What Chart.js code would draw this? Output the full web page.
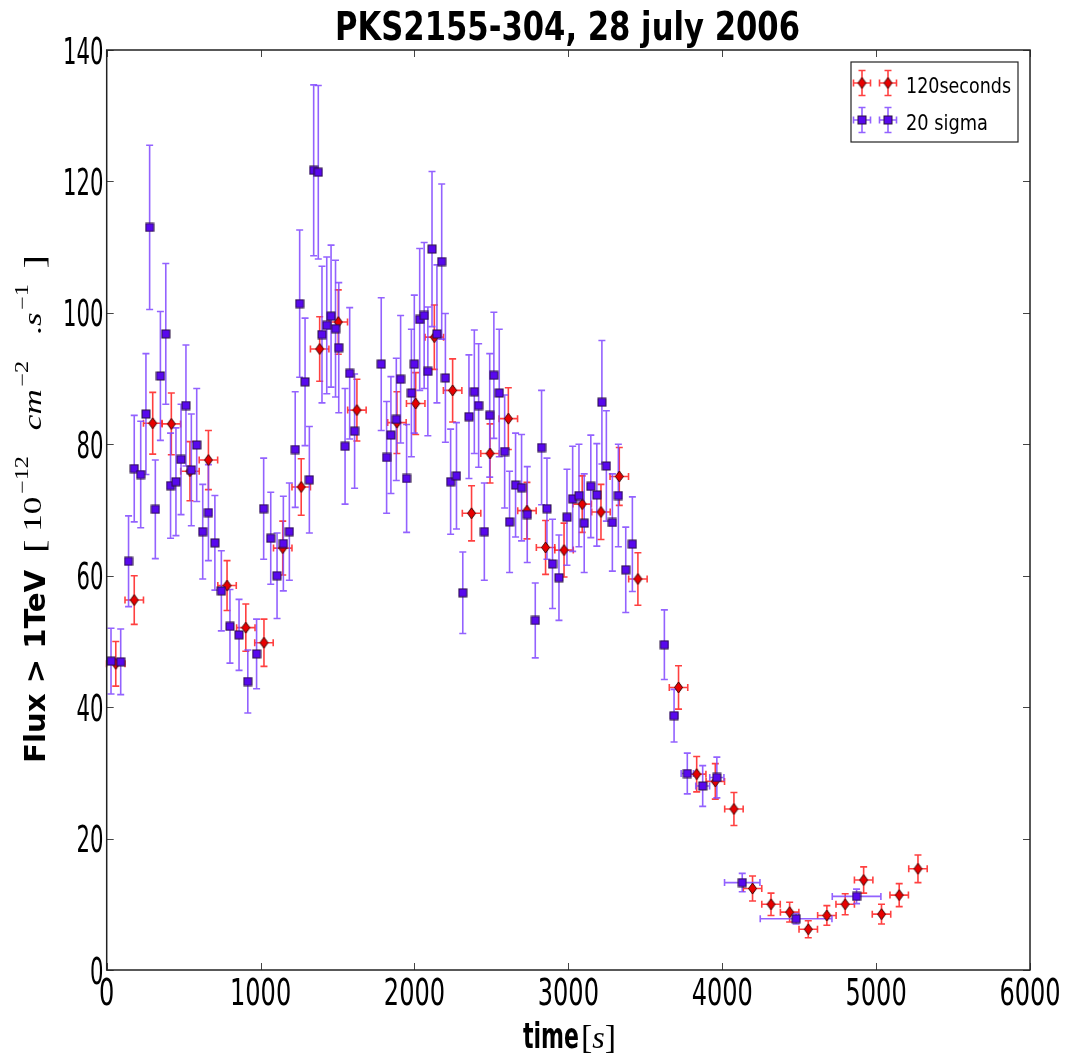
<!DOCTYPE html>
<html>
<head>
<meta charset="UTF-8">
<title>PKS2155-304, 28 july 2006</title>
<script src="https://cdn.jsdelivr.net/npm/chart.js"></script>
<style>
  body { margin: 0; background: #fff; }
  canvas { display: block; }
</style>
</head>
<body>
<canvas id="lc" width="1079" height="1056"></canvas>
<script>
// ---- data ----
const xTicks = [0, 1000, 2000, 3000, 4000, 5000, 6000];
const yTicks = [0, 20, 40, 60, 80, 100, 120, 140];

// 120 s bins (red diamonds), x error = half bin
const redTime = [59, 179, 299, 420, 541, 661, 782, 904, 1022, 1144, 1264, 1384, 1505, 1626,
  1886, 2008, 2129, 2248, 2371, 2491, 2610, 2731, 2852, 2972, 3090, 3212, 3331, 3452,
  3716, 3834, 3955, 4076, 4197, 4317, 4438, 4559, 4680, 4799, 4919, 5035, 5150, 5272];
const redFlux = [46.6, 56.3, 83.2, 83.1, 75.9, 77.6, 58.5, 52.1, 49.8, 64.2, 73.5, 94.5, 98.6, 85.2,
  83.3, 86.2, 96.3, 88.2, 69.5, 78.6, 83.9, 69.9, 64.3, 63.9, 70.9, 69.7, 75.1, 59.5,
  43.0, 29.8, 28.7, 24.5, 12.4, 10.0, 8.8, 6.2, 8.3, 10.0, 13.7, 8.5, 11.4, 15.4];
const redErr = [3.4, 3.7, 4.7, 4.7, 4.5, 4.5, 3.8, 3.6, 3.6, 4.1, 4.3, 4.9, 4.9, 4.7,
  4.7, 4.7, 4.9, 4.8, 4.2, 4.5, 4.7, 4.3, 4.1, 4.1, 4.3, 4.2, 4.4, 4.0,
  3.3, 2.7, 2.7, 2.5, 1.9, 1.7, 1.5, 1.3, 1.5, 1.6, 2.0, 1.5, 1.75, 2.1];
const redHalfBin = 60;

// 20 sigma bins (blue squares)
const blueTime = [28, 91, 142, 179, 221, 255, 279, 316, 349, 384, 415, 450, 483, 515, 550, 585,
  624, 661, 703, 745, 801, 860, 917, 974, 1020, 1066, 1107, 1148, 1187, 1225, 1254, 1289,
  1317, 1345, 1375, 1399, 1430, 1458, 1487, 1508, 1549, 1579, 1611, 1784, 1819, 1847, 1882,
  1910, 1949, 1980, 1999, 2034, 2063, 2087, 2114, 2146, 2177, 2201, 2235, 2273, 2314, 2354,
  2389, 2417, 2454, 2489, 2516, 2551, 2586, 2618, 2657, 2696, 2733, 2785, 2826, 2861, 2897,
  2939, 2991, 3028, 3069, 3103, 3146, 3185, 3218, 3247, 3286, 3325, 3373, 3416, 3624, 3687,
  3773, 3873, 3965, 4130, 4480, 4873];
const blueFlux = [47.0, 46.9, 62.2, 76.3, 75.4, 84.6, 113.0, 70.1, 90.4, 96.8, 73.7, 74.3, 77.7, 85.9, 76.1, 79.9,
  66.7, 69.6, 65.0, 57.7, 52.3, 51.0, 43.9, 48.1, 70.2, 65.7, 60.0, 64.9, 66.7, 79.2, 101.4, 89.5,
  74.6, 121.7, 121.4, 96.7, 98.1, 99.5, 97.6, 94.7, 79.7, 90.8, 82.0, 92.2, 78.0, 81.4, 83.8,
  89.9, 74.8, 87.8, 92.2, 99.0, 99.6, 91.1, 109.7, 96.8, 107.8, 90.1, 74.3, 75.2, 57.4, 84.2,
  88.0, 85.9, 66.7, 84.4, 90.5, 87.8, 78.9, 68.2, 73.8, 73.4, 69.3, 53.2, 79.5, 70.2, 61.8,
  59.7, 68.9, 71.7, 72.2, 68.0, 73.6, 72.3, 86.4, 76.7, 68.1, 72.2, 60.9, 64.8, 49.5, 38.7,
  29.9, 28.0, 29.3, 13.3, 7.8, 11.2];
const blueErr = [5.0, 5.0, 6.9, 8.1, 8.1, 9.2, 12.5, 7.5, 9.8, 10.7, 8.0, 8.2, 8.4, 9.2, 8.5, 8.6,
  7.2, 7.3, 7.2, 6.1, 5.6, 5.4, 4.8, 5.3, 7.7, 7.0, 6.5, 7.2, 7.4, 8.8, 11.2, 9.7,
  8.1, 13.0, 13.2, 10.4, 10.4, 10.8, 10.4, 9.9, 8.8, 10.0, 8.7, 10.1, 8.5, 8.9, 9.3,
  9.7, 8.2, 9.7, 10.5, 10.8, 11.1, 9.8, 11.8, 10.5, 11.8, 9.8, 8.0, 8.1, 6.2, 9.4,
  9.4, 9.4, 7.4, 9.4, 9.6, 9.7, 8.6, 7.7, 7.9, 8.1, 7.3, 5.7, 8.7, 7.7, 6.8,
  6.5, 7.3, 8.0, 7.8, 7.5, 7.8, 7.8, 9.4, 8.4, 7.4, 7.8, 6.5, 7.2, 5.3, 4.0,
  3.1, 3.1, 3.1, 1.4, 0.8, 1.1];
const blueTimeErr = [17, 17, 17, 17, 17, 17, 17, 17, 17, 17, 17, 17, 17, 17, 17, 17,
  17, 17, 17, 17, 17, 17, 17, 17, 17, 17, 17, 17, 17, 17, 17, 17,
  17, 17, 17, 17, 17, 17, 17, 17, 17, 17, 17, 17, 17, 17, 17,
  17, 17, 17, 17, 17, 17, 17, 17, 17, 17, 17, 17, 17, 17, 17,
  17, 17, 17, 17, 17, 17, 17, 17, 17, 17, 17, 17, 17, 17, 17,
  17, 17, 17, 17, 17, 17, 17, 17, 17, 17, 17, 17, 17, 22, 24,
  40, 45, 46, 115, 233, 158];

const RED = '#e80000', RED_BAR = 'rgba(255,30,30,0.85)';
const BLUE = '#5808ee', BLUE_BAR = 'rgba(128,70,255,0.85)';

// markers drawn once into small canvases
function diamondMarker() {
  const c = document.createElement('canvas');
  c.width = 11; c.height = 13;
  const g = c.getContext('2d');
  g.beginPath();
  g.moveTo(5.5, 1); g.lineTo(9.5, 6.5); g.lineTo(5.5, 12); g.lineTo(1.5, 6.5); g.closePath();
  g.fillStyle = RED; g.fill();
  g.strokeStyle = '#3a0000'; g.lineWidth = 1; g.stroke();
  return c;
}
function squareMarker() {
  const c = document.createElement('canvas');
  c.width = 10; c.height = 10;
  const g = c.getContext('2d');
  g.fillStyle = BLUE; g.fillRect(1, 1, 8, 8);
  g.strokeStyle = '#2a1040'; g.lineWidth = 1; g.strokeRect(1, 1, 8, 8);
  return c;
}
const redMark = diamondMarker();
const blueMark = squareMarker();

// text squeezed to a given width (the figure's text is condensed)
function fitText(ctx, txt, x, y, font, width, align) {
  ctx.save();
  ctx.font = font;
  const w = ctx.measureText(txt).width;
  const sx = width / w;
  let x0 = x;
  if (align === 'center') x0 = x - width / 2;
  if (align === 'right') x0 = x - width;
  ctx.translate(x0, y);
  ctx.scale(sx, 1);
  ctx.textAlign = 'left';
  ctx.fillText(txt, 0, 0);
  ctx.restore();
}

// math pieces along a line: glyphs stretched by k, gap pieces share what is left of length
function drawRuns(ctx, runs, length, k) {
  let used = 0, gaps = 0;
  runs.forEach(r => {
    if (r.gap) { gaps += r.gap; return; }
    ctx.font = r.f; r.w = ctx.measureText(r.t).width * k; used += r.w;
  });
  const unit = Math.max(0, length - used) / (gaps || 1);
  let pos = 0;
  runs.forEach(r => {
    if (r.gap) { pos += r.gap * unit; return; }
    ctx.save();
    ctx.font = r.f;
    ctx.translate(pos, r.dy || 0);
    ctx.scale(k, 1);
    ctx.fillText(r.t, 0, 0);
    ctx.restore();
    pos += r.w;
  });
}

function drawErrBar(ctx, x, y, px, py, dx, dy, cap) {
  const x0 = x.getPixelForValue(px - dx), x1 = x.getPixelForValue(px + dx);
  const y0 = y.getPixelForValue(py - dy), y1 = y.getPixelForValue(py + dy);
  const cx = x.getPixelForValue(px), cy = y.getPixelForValue(py);
  ctx.beginPath();
  ctx.moveTo(cx, y0); ctx.lineTo(cx, y1);
  ctx.moveTo(cx - cap, y0); ctx.lineTo(cx + cap, y0);
  ctx.moveTo(cx - cap, y1); ctx.lineTo(cx + cap, y1);
  ctx.moveTo(x0, cy); ctx.lineTo(x1, cy);
  ctx.moveTo(x0, cy - cap); ctx.lineTo(x0, cy + cap);
  ctx.moveTo(x1, cy - cap); ctx.lineTo(x1, cy + cap);
  ctx.stroke();
}

const errorBars = {
  id: 'errorBars',
  beforeDatasetsDraw(chart) {
    const { ctx, scales: { x, y } } = chart;
    ctx.save();
    ctx.lineWidth = 1.6;
    ctx.strokeStyle = RED_BAR;
    redTime.forEach((t, i) => drawErrBar(ctx, x, y, t, redFlux[i], redHalfBin, redErr[i], 3.5));
    ctx.strokeStyle = BLUE_BAR;
    blueTime.forEach((t, i) => drawErrBar(ctx, x, y, t, blueFlux[i], blueTimeErr[i], blueErr[i], 3.5));
    ctx.restore();
  }
};

const frame = {
  id: 'frame',
  afterDraw(chart) {
    const { ctx, chartArea: a, scales: { x, y } } = chart;
    ctx.save();
    // inward ticks on all sides
    ctx.strokeStyle = '#444';
    ctx.lineWidth = 1;
    ctx.beginPath();
    xTicks.forEach(v => {
      const px = Math.round(x.getPixelForValue(v)) + 0.5;
      ctx.moveTo(px, a.bottom); ctx.lineTo(px, a.bottom - 7);
      ctx.moveTo(px, a.top); ctx.lineTo(px, a.top + 7);
    });
    yTicks.forEach(v => {
      const py = Math.round(y.getPixelForValue(v)) + 0.5;
      ctx.moveTo(a.left, py); ctx.lineTo(a.left + 7, py);
      ctx.moveTo(a.right, py); ctx.lineTo(a.right - 7, py);
    });
    ctx.stroke();
    // spines
    ctx.strokeStyle = '#222';
    ctx.lineWidth = 1.5;
    ctx.strokeRect(a.left, a.top, a.right - a.left, a.bottom - a.top);

    // tick labels
    ctx.fillStyle = '#000';
    ctx.textBaseline = 'alphabetic';
    const tickFont = '37px "DejaVu Sans"';
    xTicks.forEach(v => {
      const s = String(v);
      fitText(ctx, s, x.getPixelForValue(v), 1005, tickFont, 15.3 * s.length, 'center');
    });
    yTicks.forEach(v => {
      const s = String(v);
      fitText(ctx, s, 103.5, y.getPixelForValue(v) + 13.5, tickFont, 13.5 * s.length, 'right');
    });

    // title
    fitText(ctx, 'PKS2155-304, 28 july 2006', 335, 40, 'bold 39px "DejaVu Sans"', 465, 'left');

    // x label: time[s]
    fitText(ctx, 'time', 523, 1048, 'bold 36px "DejaVu Sans"', 56, 'left');
    ctx.save();
    ctx.translate(581, 1048);
    drawRuns(ctx, [
      { t: '[', f: '34px "Liberation Serif"' },
      { t: 's', f: 'italic 32px "Liberation Serif"' },
      { t: ']', f: '34px "Liberation Serif"' }
    ], 31, 1);
    ctx.restore();

    // y label
    ctx.save();
    ctx.translate(45, 0);
    ctx.rotate(-Math.PI / 2);
    fitText(ctx, 'Flux > 1TeV', -763, 0, 'bold 28px "DejaVu Sans"', 193, 'left');
    ctx.restore();
    ctx.save();
    ctx.translate(41, 553);
    ctx.rotate(-Math.PI / 2);
    const mf = '26px "Liberation Serif"', mi = 'italic 26px "Liberation Serif"', ms = '18px "Liberation Serif"';
    const br = '30px "Liberation Serif"';
    drawRuns(ctx, [
      { t: '[', f: br, dy: 3 },
      { gap: 0.3 },
      { t: '10', f: mf },
      { gap: 0.1 },
      { t: '\u221212', f: ms, dy: -13 },
      { gap: 1 },
      { t: 'cm', f: mi },
      { gap: 0.1 },
      { t: '\u22122', f: ms, dy: -13 },
      { gap: 1 },
      { t: '.', f: mf },
      { t: 's', f: mi },
      { gap: 0.1 },
      { t: '\u22121', f: ms, dy: -13 },
      { gap: 0.6 },
      { t: ']', f: br, dy: 3 }
    ], 298, 1.35);
    ctx.restore();

    // legend
    ctx.fillStyle = '#fff';
    ctx.fillRect(851, 62, 167, 80);
    ctx.strokeStyle = '#222';
    ctx.lineWidth = 1.2;
    ctx.strokeRect(851, 62, 167, 80);
    const entries = [
      { y: 83, bar: RED_BAR, mark: redMark, label: '120seconds', w: 105 },
      { y: 120, bar: BLUE_BAR, mark: blueMark, label: '20 sigma', w: 82 }
    ];
    entries.forEach(e => {
      [862, 888].forEach(mx => {
        ctx.strokeStyle = e.bar;
        ctx.lineWidth = 1.6;
        ctx.beginPath();
        ctx.moveTo(mx, e.y - 12.5); ctx.lineTo(mx, e.y + 12.5);
        ctx.moveTo(mx - 3.5, e.y - 12.5); ctx.lineTo(mx + 3.5, e.y - 12.5);
        ctx.moveTo(mx - 3.5, e.y + 12.5); ctx.lineTo(mx + 3.5, e.y + 12.5);
        ctx.moveTo(mx - 8.5, e.y); ctx.lineTo(mx + 8.5, e.y);
        ctx.moveTo(mx - 8.5, e.y - 3.5); ctx.lineTo(mx - 8.5, e.y + 3.5);
        ctx.moveTo(mx + 8.5, e.y - 3.5); ctx.lineTo(mx + 8.5, e.y + 3.5);
        ctx.stroke();
        ctx.drawImage(e.mark, mx - e.mark.width / 2, e.y - e.mark.height / 2);
      });
      ctx.fillStyle = '#000';
      fitText(ctx, e.label, 906, e.y + 9.5, '22px "DejaVu Sans"', e.w, 'left');
    });
    ctx.restore();
  }
};

new Chart(document.getElementById('lc'), {
  type: 'scatter',
  data: {
    datasets: [
      {
        label: '20 sigma',
        data: blueTime.map((t, i) => ({ x: t, y: blueFlux[i] })),
        pointStyle: blueMark,
        pointRadius: 5
      },
      {
        label: '120seconds',
        data: redTime.map((t, i) => ({ x: t, y: redFlux[i] })),
        pointStyle: redMark,
        pointRadius: 5
      }
    ]
  },
  options: {
    responsive: false,
    animation: false,
    events: [],
    layout: { padding: { left: 0, right: 49, top: 50, bottom: 0 } },
    scales: {
      x: {
        type: 'linear', min: 0, max: 6000,
        ticks: { display: false, stepSize: 1000 },
        grid: { display: false }, border: { display: false },
        afterFit: s => { s.height = 86; }
      },
      y: {
        min: 0, max: 140,
        ticks: { display: false, stepSize: 20 },
        grid: { display: false }, border: { display: false },
        afterFit: s => { s.width = 106.7; }
      }
    },
    plugins: { legend: { display: false }, tooltip: { enabled: false } }
  },
  plugins: [errorBars, frame]
});
</script>
</body>
</html>
